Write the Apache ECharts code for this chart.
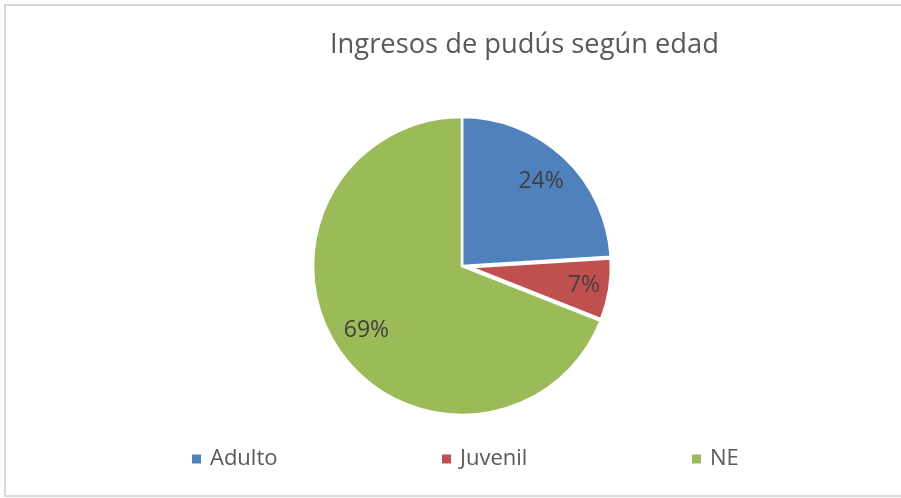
<!DOCTYPE html>
<html>
<head>
<meta charset="utf-8">
<script src="https://cdn.jsdelivr.net/npm/echarts@6/dist/echarts.min.js"></script>
<style>
  html, body { margin: 0; padding: 0; background: #fff; }
  #chart { width: 901px; height: 498px; }
</style>
</head>
<body>
<div id="chart"></div>
<script>
"use strict";
var categories = ["Adulto", "Juvenil", "NE"];
var values = [24, 7, 69];
var colors = ["#4F81BD", "#C0504D", "#9BBB59"];
var explodedName = "Juvenil";

var font = "'Open Sans', 'Liberation Sans', sans-serif";
var chart = echarts.init(document.getElementById("chart"));
var none = "rgba(0,0,0,0)";

// which = "rest" -> every slice but the exploded one, "exploded" -> only that one, "none" -> all hidden
function pieData(which) {
    return categories.map(function (name, i) {
        var isExp = name === explodedName;
        var show = (which === "rest" && !isExp) || (which === "exploded" && isExp);
        return {
            name: name,
            value: values[i],
            selected: isExp,
            itemStyle: show ? { color: colors[i], borderColor: "#fff", borderWidth: 2.5 }
                            : { color: none, borderWidth: 0 }
        };
    });
}

// one legend per item so the spacing matches the reference
var legends = categories.map(function (name, i) {
    return {
        left: 192 + i * 250,
        top: 448,
        padding: 0,
        icon: "rect",
        itemWidth: 9,
        itemHeight: 9,
        selectedMode: false,
        data: [{ name: name, itemStyle: { color: colors[i], opacity: 1, borderWidth: 0 } }],
        textStyle: { fontFamily: font, fontSize: 22, color: "#595959", padding: [0, 0, 0, 4] }
    };
});

var baseSeries = {
    type: "pie",
    center: [462, 266],
    startAngle: 90,
    clockwise: true,
    selectedMode: "single",
    selectedOffset: 0,
    silent: true,
    label: { show: false },
    labelLine: { show: false }
};

var option = {
    backgroundColor: "#fff",
    animation: false,
    title: {
        text: "Ingresos de pudús según edad",
        left: 330,
        top: 32,
        padding: 0,
        textStyle: { fontFamily: font, fontSize: 27.3, fontWeight: "normal", color: "#595959" }
    },
    legend: legends,
    graphic: [{
        type: "rect",
        silent: true,
        shape: { x: 5, y: 5, width: 920, height: 491 },
        style: { fill: "none", stroke: "#d9d9d9", lineWidth: 2 }
    }],
    series: [
        Object.assign({}, baseSeries, {
            radius: [0, 149],
            data: pieData("rest")
        }),
        Object.assign({}, baseSeries, {
            // exploded slice: pulled out, with a smaller radius so its rim stays on the circle
            radius: [0, 141],
            selectedOffset: 8,
            data: pieData("exploded")
        }),
        Object.assign({}, baseSeries, {
            // transparent ring that carries the labels at ~3/4 of the radius
            radius: [76, 149],
            selectedOffset: 8,
            label: {
                show: true,
                position: "inside",
                fontFamily: font,
                fontSize: 23,
                color: "#404040",
                formatter: function (p) { return Math.round(p.percent) + "%"; }
            },
            data: pieData("none")
        })
    ]
};
chart.setOption(option);
</script>
</body>
</html>
